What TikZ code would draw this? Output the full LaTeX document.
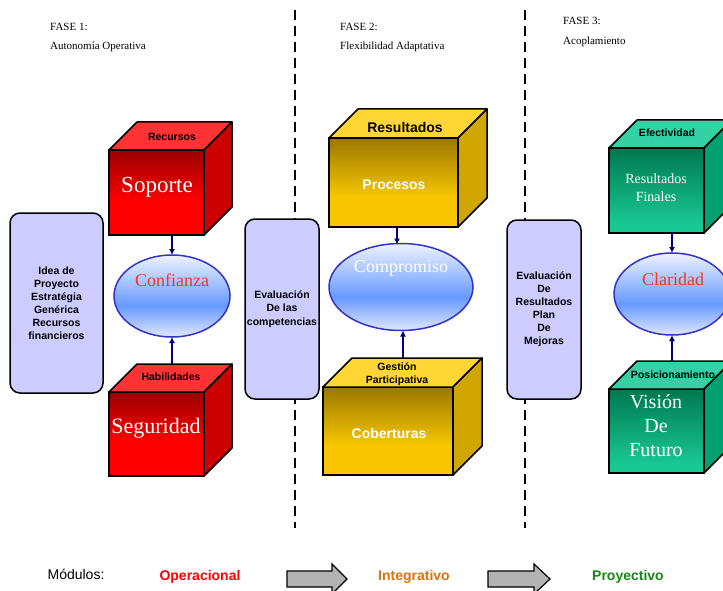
\documentclass[tikz,border=0pt]{standalone}
\usepackage{fontspec}
\setmainfont{Liberation Serif}
\setsansfont{Liberation Sans}
\usetikzlibrary{shapes.geometric,calc,arrows.meta}

\definecolor{redtop}{HTML}{FF3333}
\definecolor{redfrontT}{HTML}{990000}
\definecolor{redfrontB}{HTML}{FF0000}
\definecolor{redside}{HTML}{CC0000}
\definecolor{goldtop}{HTML}{FFD633}
\definecolor{goldfrontT}{HTML}{9A7800}
\definecolor{goldfrontB}{HTML}{F7C600}
\definecolor{goldside}{HTML}{D1A600}
\definecolor{greentop}{HTML}{33D1A3}
\definecolor{greenfrontT}{HTML}{00774F}
\definecolor{greenfrontB}{HTML}{19C994}
\definecolor{greenside}{HTML}{00A070}
\definecolor{boxfill}{HTML}{CCCCFF}
\definecolor{ellline}{HTML}{3333CC}
\definecolor{ellT}{HTML}{EEF3FF}
\definecolor{ellM}{HTML}{6699FF}
\definecolor{ellB}{HTML}{E2E8FF}
\definecolor{navy}{HTML}{000080}
\definecolor{elltxt}{HTML}{F0381E}
\definecolor{orangetxt}{HTML}{D9730D}
\definecolor{greentxt}{HTML}{138A13}
\definecolor{arrowgray}{HTML}{B3B3B3}

\pgfdeclareverticalshading{ellshade}{100bp}{color(0bp)=(ellB); color(25bp)=(ellB); color(44bp)=(ellM); color(75bp)=(ellT); color(100bp)=(ellT)}
\pgfdeclareverticalshading{redfront}{100bp}{color(0bp)=(redfrontB); color(45bp)=(redfrontB); color(75bp)=(redfrontT); color(100bp)=(redfrontT)}
\pgfdeclareverticalshading{goldfront}{100bp}{color(0bp)=(goldfrontB); color(42bp)=(goldfrontB); color(75bp)=(goldfrontT); color(100bp)=(goldfrontT)}
\pgfdeclareverticalshading{greenfront}{100bp}{color(0bp)=(greenfrontB); color(30bp)=(greenfrontB); color(75bp)=(greenfrontT); color(100bp)=(greenfrontT)}

\newcommand\cubefaces[4]{%
  \filldraw[facestyle, fill=#3] (#1.north west) -- ++(#2,-#2) -- ($(#1.north east)+(#2,-#2)$) -- (#1.north east) -- cycle;
  \filldraw[facestyle, fill=#4] (#1.north east) -- ++(#2,-#2) -- ($(#1.south east)+(#2,-#2)$) -- (#1.south east) -- cycle;}

\begin{document}
\begin{tikzpicture}[x=1pt,y=-1pt,
  facestyle/.style={draw=black, line width=1.5pt, line join=round},
  cubefront/.style={rectangle, draw=black, line width=1.5pt, inner sep=0pt, outer sep=0pt},
  redshade/.style={shading=redfront},
  goldshade/.style={shading=goldfront},
  greenshade/.style={shading=greenfront},
  ell/.style={ellipse, draw=ellline, line width=1.5pt, inner sep=0pt, outer sep=0pt, shading=ellshade},
  evalbox/.style={rectangle, rounded corners=10pt, draw=black, line width=1.5pt, fill=boxfill,
     inner sep=0pt, align=center, font=\sffamily\bfseries\fontsize{10.5}{13}\selectfont},
  toplabel/.style={inner sep=0pt, align=center, font=\sffamily\bfseries\fontsize{10.5}{13}\selectfont},
  bigtop/.style={inner sep=0pt, font=\sffamily\bfseries\fontsize{14}{16}\selectfont},
  whitesans/.style={inner sep=0pt, text=white, font=\sffamily\bfseries\fontsize{14}{16}\selectfont},
  whiteserif/.style={inner sep=0pt, text=white, align=center, font=\fontsize{22}{26}\selectfont},
  elltext/.style={inner sep=0pt, font=\fontsize{18}{20}\selectfont},
  header/.style={inner sep=0pt, anchor=west, font=\fontsize{11}{12}\selectfont},
  modlabel/.style={inner sep=0pt, font=\sffamily\bfseries\fontsize{14}{16}\selectfont},
  divider/.style={line width=1.6pt, dash pattern=on 10pt off 6pt},
  conn/.style={draw=navy, line width=2pt, -{Latex[length=6pt,width=6pt]}},
  blockarrow/.style={fill=arrowgray, draw=black, line width=1.2pt, line join=miter}
]
\clip (0,0) rectangle (723,591);
\fill[white] (0,0) rectangle (723,591);

% headers
\node[header] (f1) at (50,27) {FASE 1:};
\node[header] (f1b) at (50,47) {Autonomía Operativa};
\node[header] (f2) at (340,27) {FASE 2:};
\node[header] (f2b) at (340,47) {Flexibilidad Adaptativa};
\node[header] (f3) at (563,21) {FASE 3:};
\node[header] (f3b) at (563,42) {Acoplamiento};

% dividers
\coordinate (d1a) at (295,10); \coordinate (d1b) at (295,528);
\coordinate (d2a) at (525,10); \coordinate (d2b) at (525,528);
\draw[divider] (d1a) -- (d1b);
\draw[divider] (d2a) -- (d2b);

% side boxes
\node[evalbox, minimum width=93pt, minimum height=180pt] (b1) at (56.5,303)
  {Idea de\\Proyecto\\Estratégia\\Genérica\\Recursos\\financieros};
\node[evalbox, minimum width=74pt, minimum height=180pt, font=\sffamily\bfseries\fontsize{10.5}{13.5}\selectfont] (b2) at (282,309)
  {Evaluación\\De las\\competencias};
\node[evalbox, minimum width=74pt, minimum height=179pt] (b3) at (544,309.5)
  {Evaluación\\De\\Resultados\\Plan\\De\\Mejoras};

% ---------- column 1 ----------
\node[cubefront, redshade, minimum width=95pt, minimum height=85pt] (s1) at (156.5,192.5) {};
\cubefaces{s1}{28}{redtop}{redside}
\node[toplabel] (s1t) at (172,137) {Recursos};
\node[whiteserif, font=\fontsize{23}{26}\selectfont] (s1x) at (157,187) {Soporte};

\node[cubefront, redshade, minimum width=95pt, minimum height=84pt] (h1) at (156.5,434) {};
\cubefaces{h1}{28}{redtop}{redside}
\node[toplabel] (h1t) at (171,377) {Habilidades};
\node[whiteserif] (h1x) at (156,428) {Seguridad};

\node[ell, minimum width=116pt, minimum height=82pt] (e1) at (172,296) {};
\node[elltext, text=elltxt] (e1x) at (172,280) {Confianza};

\coordinate (h1b) at ($(h1.north)+(0,-28)$);
\draw[conn] (e1.north |- s1.south) -- (e1.north);
\draw[conn] (e1.south |- h1b) -- (e1.south);

% ---------- column 2 ----------
\node[cubefront, goldshade, minimum width=129pt, minimum height=89pt] (r2) at (393.5,182.5) {};
\cubefaces{r2}{29}{goldtop}{goldside}
\node[bigtop] (r2t) at (405,127) {Resultados};
\node[whitesans] (r2x) at (394,185) {Procesos};

\node[cubefront, goldshade, minimum width=130pt, minimum height=88pt] (c2) at (388,431) {};
\cubefaces{c2}{29}{goldtop}{goldside}
\node[toplabel] (c2t) at (397,374.5) {Gestión\\Participativa};
\node[whitesans] (c2x) at (389,433) {Coberturas};

\node[ell, minimum width=144pt, minimum height=87pt] (e2) at (401,287) {};
\node[elltext, text=white] (e2x) at (401,268) {Compromiso};

\coordinate (c2b) at ($(c2.north)+(0,-29)$);
\draw[conn] ($(e2.north |- r2.south)+(-4,0)$) -- ($(e2.north)+(-4,1)$);
\draw[conn] ($(e2.south |- c2b)+(2,0)$) -- ($(e2.south)+(2,0)$);

% ---------- column 3 ----------
\node[cubefront, greenshade, minimum width=95pt, minimum height=85pt] (g3) at (656.5,190.5) {};
\cubefaces{g3}{28}{greentop}{greenside}
\node[toplabel] (g3t) at (667,133) {Efectividad};
\node[whiteserif, font=\fontsize{14}{18}\selectfont] (g3x) at (656,188) {Resultados\\Finales};

\node[cubefront, greenshade, minimum width=95pt, minimum height=84pt] (v3) at (656.5,431) {};
\cubefaces{v3}{28}{greentop}{greenside}
\node[toplabel] (v3t) at (673,375) {Posicionamiento};
\node[whiteserif, font=\fontsize{20}{24}\selectfont] (v3x) at (656,426) {Visión\\De\\Futuro};

\node[ell, minimum width=116pt, minimum height=82pt] (e3) at (672,294) {};
\node[elltext, text=elltxt] (e3x) at (673,279) {Claridad};

\coordinate (v3b) at ($(v3.north)+(0,-28)$);
\draw[conn] (e3.north |- g3.south) -- (e3.north);
\draw[conn] (e3.south |- v3b) -- (e3.south);

% ---------- modules ----------
\node[inner sep=0pt, font=\sffamily\fontsize{14}{16}\selectfont] (mod) at (76,574) {Módulos:};
\node[modlabel, text=red] (m1) at (200,577) {Operacional};
\node[modlabel, text=orangetxt] (m2) at (414,577) {Integrativo};
\node[modlabel, text=greentxt] (m3) at (628,577) {Proyectivo};

\draw[blockarrow] (287,571) -- (332,571) -- (332,564) -- (347,579) -- (332,594) -- (332,587) -- (287,587) -- cycle;
\draw[blockarrow] (488,571) -- (534,571) -- (534,564) -- (550,579) -- (534,594) -- (534,587) -- (488,587) -- cycle;
\end{tikzpicture}
\end{document}
